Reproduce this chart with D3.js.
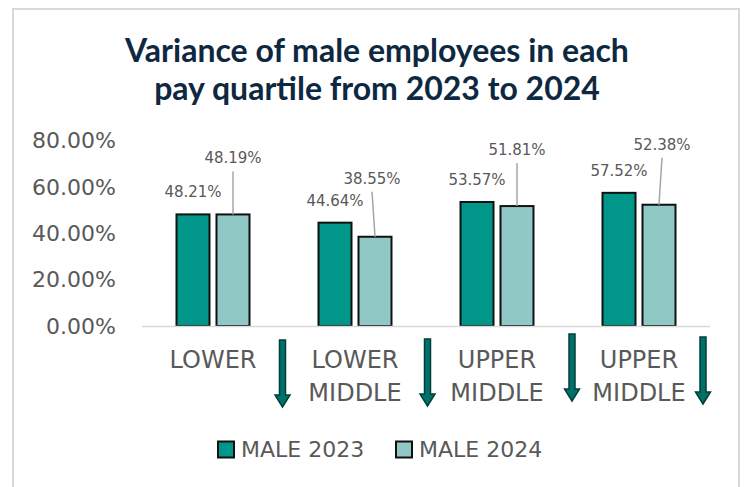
<!DOCTYPE html>
<html>
<head>
<meta charset="utf-8">
<script src="https://cdn.jsdelivr.net/npm/d3@7"></script>
<style>
  html, body { margin: 0; padding: 0; background: #fff; }
  svg { display: block; }
</style>
</head>
<body>
<svg id="chart" width="744" height="487"></svg>
<script>
// Share of male employees per pay quartile, 2023 vs 2024
const categories = ["LOWER", "LOWER MIDDLE", "UPPER MIDDLE", "UPPER MIDDLE"];
const seriesNames = ["MALE 2023", "MALE 2024"];
const male2023 = [0.4821, 0.4464, 0.5357, 0.5752];
const male2024 = [0.4819, 0.3855, 0.5181, 0.5238];
const yTicks = [0, 0.2, 0.4, 0.6, 0.8];
const titleLines = ["Variance of male employees in each", "pay quartile from 2023 to 2024"];

// layout helpers for the callout labels of the 2024 series and the arrows
const calloutShift = [{dx: 0, rise: 51}, {dx: -3, rise: 53}, {dx: 0, rise: 51}, {dx: 3, rise: 55}];
const arrowShift = [{dx: -1.5, top: 340}, {dx: 1.5, top: 339}, {dx: 4, top: 334}, {dx: -7, top: 337}];

const colors = ["#00968A", "#8FC8C4"];
const textGray = "#595959";
const numFont = "'DejaVu Sans', sans-serif";

const svg = d3.select("#chart");

svg.append("rect").attr("width", 744).attr("height", 487).attr("fill", "#fff");
svg.append("rect")
  .attr("x", 13).attr("y", 9).attr("width", 726).attr("height", 500)
  .attr("fill", "none").attr("stroke", "#d9d9d9").attr("stroke-width", 2);

// title, one text element per line
svg.append("g")
  .selectAll("text").data(titleLines).join("text")
  .attr("text-anchor", "middle")
  .attr("font-family", "Lato, sans-serif")
  .attr("font-weight", 700)
  .attr("font-size", 32)
  .attr("fill", "#0E2841")
  .attr("x", 377)
  .attr("y", (d, i) => 62 + i * 38)
  .text(d => d);

const idx = d3.range(categories.length);
const x0 = d3.scaleBand().domain(idx).range([142, 710]).paddingInner(0.486).paddingOuter(0.243);
const x1 = d3.scaleBand().domain([0, 1]).range([0, x0.bandwidth()]).paddingInner(0.175);
const y = d3.scaleLinear().domain([0, 0.8]).range([326, 140.8]);
const pct = d3.format(".2%");

// y axis labels (no axis line, no ticks)
const yAxis = svg.append("g").attr("transform", "translate(116,0)")
  .call(d3.axisLeft(y).tickValues(yTicks).tickFormat(pct).tickSize(0).tickPadding(0));
yAxis.select(".domain").remove();
yAxis.selectAll("text")
  .attr("font-family", numFont).attr("font-size", 22).attr("fill", textGray);

const series = [male2023, male2024];

// bars
const groups = svg.append("g").selectAll("g").data(idx).join("g")
  .attr("transform", i => `translate(${x0(i)},0)`);

groups.selectAll("rect")
  .data(i => series.map((s, k) => ({k, v: s[i]})))
  .join("rect")
  .attr("x", d => x1(d.k))
  .attr("width", x1.bandwidth())
  .attr("y", d => y(d.v))
  .attr("height", d => y(0) - y(d.v))
  .attr("fill", d => colors[d.k])
  .attr("stroke", "#111")
  .attr("stroke-width", 2);

// category baseline
svg.append("line")
  .attr("x1", 142).attr("x2", 710).attr("y1", y(0) + 0.5).attr("y2", y(0) + 0.5)
  .attr("stroke", "#d9d9d9").attr("stroke-width", 1.5);

// 2023 labels sit right above their bars
groups.append("text")
  .attr("x", x1(0) + x1.bandwidth() / 2)
  .attr("y", i => y(male2023[i]) - 17)
  .attr("text-anchor", "middle")
  .attr("font-family", numFont).attr("font-size", 15).attr("fill", textGray)
  .text(i => pct(male2023[i]));

// 2024 labels are lifted higher with a leader line down to the bar
groups.append("line")
  .attr("x1", i => x1(1) + x1.bandwidth() / 2 + calloutShift[i].dx)
  .attr("y1", i => y(male2024[i]) - calloutShift[i].rise + 8)
  .attr("x2", x1(1) + x1.bandwidth() / 2)
  .attr("y2", i => y(male2024[i]))
  .attr("stroke", "#a6a6a6").attr("stroke-width", 1.5);

groups.append("text")
  .attr("x", i => x1(1) + x1.bandwidth() / 2 + calloutShift[i].dx)
  .attr("y", i => y(male2024[i]) - calloutShift[i].rise)
  .attr("text-anchor", "middle")
  .attr("font-family", numFont).attr("font-size", 15).attr("fill", textGray)
  .text(i => pct(male2024[i]));

// category labels, wrapped on spaces
svg.append("g").selectAll("text").data(idx).join("text")
  .attr("text-anchor", "middle")
  .attr("font-family", numFont).attr("font-size", 24).attr("fill", textGray)
  .each(function (i) {
    d3.select(this).selectAll("tspan").data(categories[i].split(" ")).join("tspan")
      .attr("x", x0(i) + x0.bandwidth() / 2)
      .attr("y", (d, j) => 368 + j * 33)
      .text(d => d);
  });

// downward arrows on the boundary after each category
const arrowLen = 67, shaftW = 6, headW = 15, headH = 12;
svg.append("g").selectAll("path").data(idx).join("path")
  .attr("d", i => {
    const cx = x0(i) + x0.bandwidth() + (x0.step() - x0.bandwidth()) / 2 + arrowShift[i].dx;
    const t = arrowShift[i].top, b = t + arrowLen, hs = b - headH;
    const p = d3.path();
    p.moveTo(cx - shaftW / 2, t);
    p.lineTo(cx + shaftW / 2, t);
    p.lineTo(cx + shaftW / 2, hs);
    p.lineTo(cx + headW / 2, hs);
    p.lineTo(cx, b);
    p.lineTo(cx - headW / 2, hs);
    p.lineTo(cx - shaftW / 2, hs);
    p.closePath();
    return p.toString();
  })
  .attr("fill", "#00706A").attr("stroke", "#003F3A").attr("stroke-width", 1.5)
  .attr("stroke-linejoin", "miter");

// legend
const legendItems = [{x: 218, k: 0}, {x: 396, k: 1}];
const legend = svg.append("g").selectAll("g").data(legendItems).join("g")
  .attr("transform", d => `translate(${d.x},441.5)`);
legend.append("rect")
  .attr("width", 16).attr("height", 16)
  .attr("fill", d => colors[d.k]).attr("stroke", "#111").attr("stroke-width", 2);
legend.append("text")
  .attr("x", 23).attr("y", 15.5)
  .attr("font-family", numFont).attr("font-size", 22).attr("fill", textGray)
  .text(d => seriesNames[d.k]);
</script>
</body>
</html>
